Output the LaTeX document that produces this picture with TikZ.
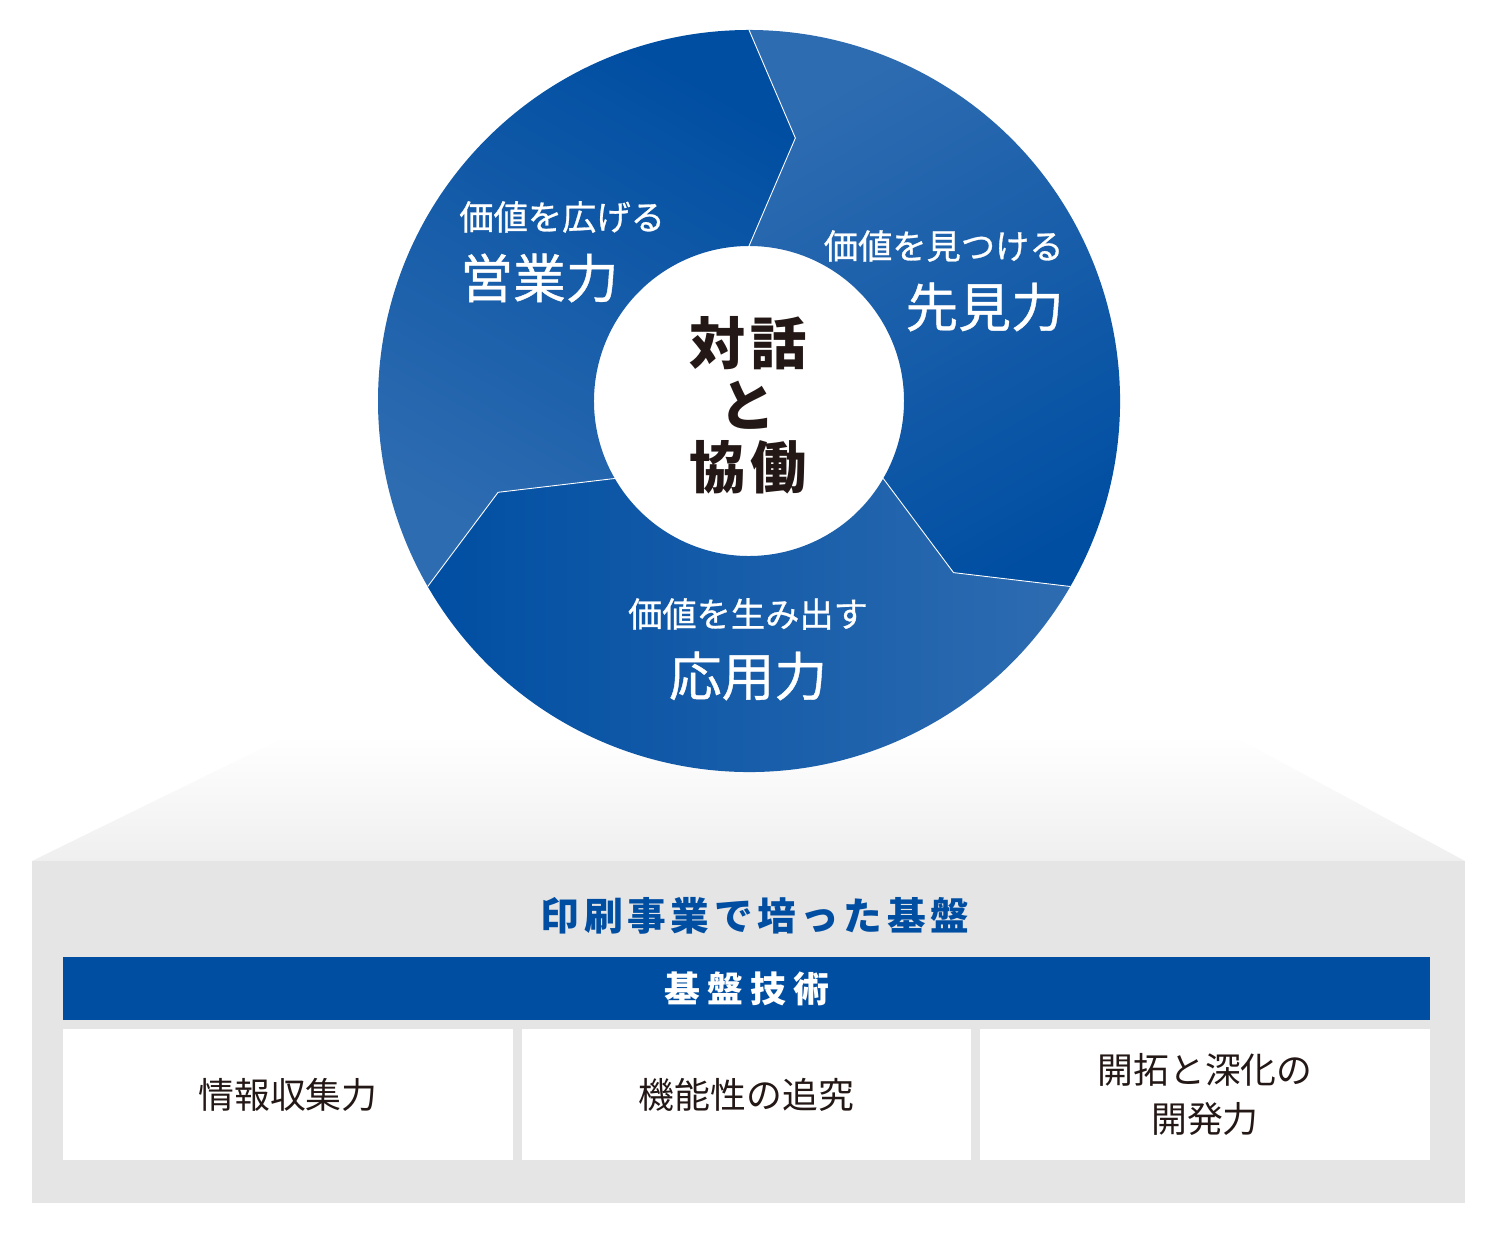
\documentclass[tikz,border=0pt]{standalone}
\usepackage{fontspec}
\newfontfamily\jpfont{Noto Sans CJK JP}
\usetikzlibrary{calc}

\definecolor{bluedark}{RGB}{0,78,162}
\definecolor{bluelight}{RGB}{46,108,177}
\definecolor{basegray}{RGB}{229,229,229}
\definecolor{topgray}{RGB}{239,239,239}
\definecolor{inkblack}{RGB}{35,24,21}

\begin{document}
\begin{tikzpicture}[x=0.02cm, y=0.02cm,
  kachi/.style={text=white, inner sep=0pt,
    font=\jpfont\fontsize{19.5}{23}\selectfont\addfontfeature{FakeBold=0.8}},
  chikara/.style={text=white, inner sep=0pt,
    font=\jpfont\fontsize{30}{36}\selectfont\addfontfeature{FakeBold=0.8}},
  cell/.style={fill=white, minimum width=9cm, minimum height=2.62cm, align=center,
    text=inkblack, font=\jpfont\fontsize{20.4}{28.4}\selectfont}]
  \useasboundingbox (0,0) rectangle (1496,1240);
  % platform
  \shade[top color=white, bottom color=topgray]
    (287,504) -- (1233,504) -- (1465,379) -- (32,379) -- cycle;
  \fill[basegray] (32,37) rectangle (1465,379);
  % wheel
  \coordinate (c) at (749,839);
  \foreach \s/\sa in {-30/-150, 90/-30, 210/90}
    \shade[top color=bluedark, bottom color=bluelight, shading angle=\sa]
      ($(c)+(\s:371)$) arc[start angle=\s, end angle=\s+120, radius=371]
      -- ($(c)+({\s+110}:267)$) -- ($(c)+({\s+120}:155)$)
      arc[start angle=\s+120, end angle=\s, radius=155]
      -- ($(c)+({\s-10}:267)$) -- cycle;
  \foreach \s in {-30, 90, 210}
    \draw[white, line width=0.5pt]
      ($(c)+(\s:371)$) -- ($(c)+({\s-10}:267)$) -- ($(c)+(\s:155)$);
  \node[kachi, anchor=west] (kachiA) at (459,1023) {価値を広げる};
  \node[chikara, anchor=west] (eigyo) at (460,962) {営業力};
  \node[kachi, anchor=east] (kachiB) at (1064,994) {価値を見つける};
  \node[chikara, anchor=east] (senken) at (1064,933) {先見力};
  \node[kachi] (kachiC) at (748,626) {価値を生み出す};
  \node[chikara] (ouyou) at (748,564) {応用力};
  \node[align=center, text=inkblack,
    font=\jpfont\bfseries\fontsize{32}{35.2}\selectfont\addfontfeature{LetterSpace=8}]
    (taiwa) at (748,835) {対話\\と\\協働};
  % base
  \node[text=bluedark,
    font=\jpfont\bfseries\fontsize{22}{26}\selectfont\addfontfeature{LetterSpace=12}]
    (kiban) at (755,324) {印刷事業で培った基盤};
  \node[fill=bluedark, minimum width=27.34cm, minimum height=1.26cm, text=white,
    font=\jpfont\bfseries\fontsize{20.4}{24}\selectfont\addfontfeature{LetterSpace=20}]
    (gijutsu) at (746.5,251.5) {基盤技術};
  \node[cell] (joho) at (288,145.5) {情報収集力};
  \node[cell] (kino) at (746.5,145.5) {機能性の追究};
  \node[cell] (kaitaku) at (1205,145.5) {開拓と深化の\\開発力};
\end{tikzpicture}
\end{document}
